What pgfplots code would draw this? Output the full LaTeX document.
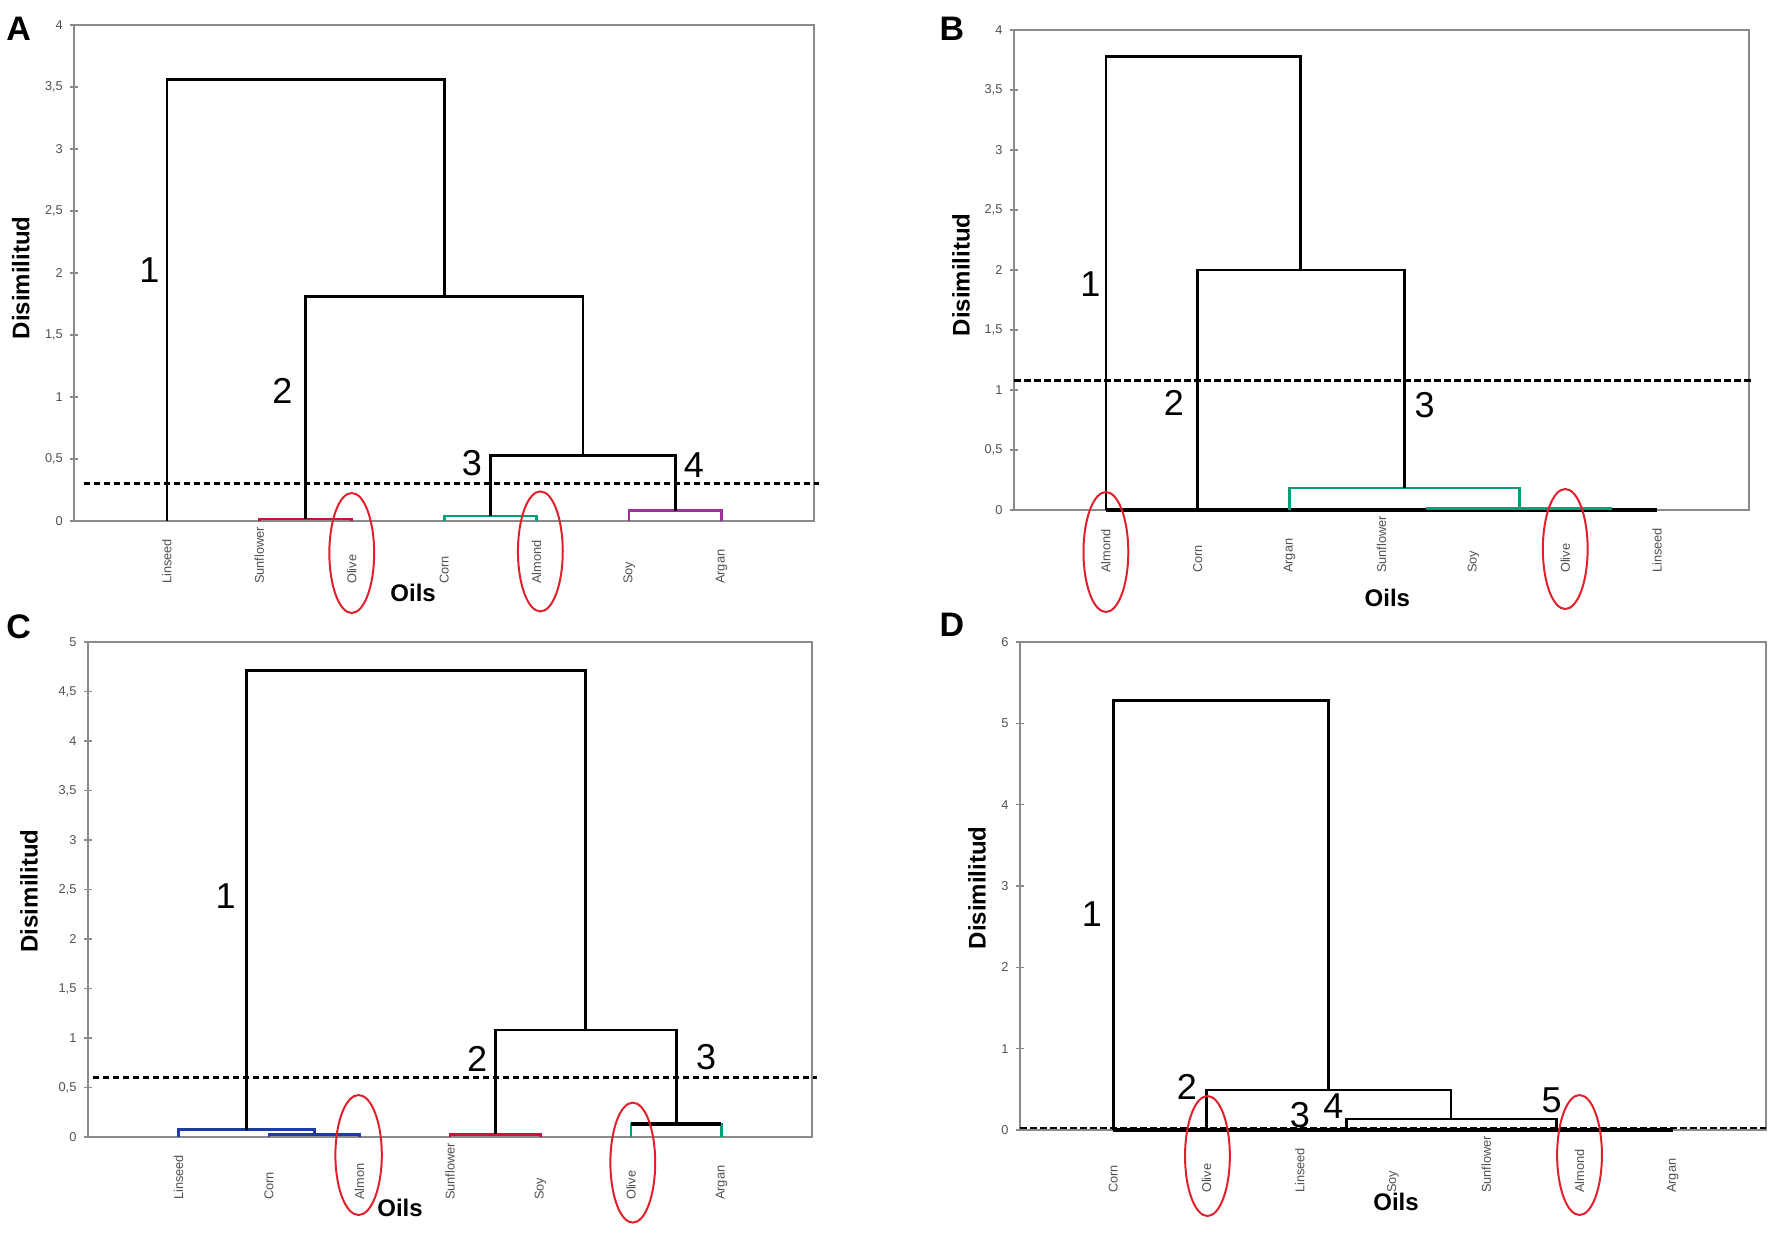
\documentclass[border=0pt]{standalone}
\usepackage{fontspec}
\setmainfont{Liberation Sans}
\usepackage{pgfplots}
\pgfplotsset{compat=1.18}
\usetikzlibrary{calc}
\definecolor{dred}{HTML}{C8143C}
\definecolor{dgreen}{HTML}{00A078}
\definecolor{dpurple}{HTML}{A0309A}
\definecolor{dblue}{HTML}{1E3CA8}
\definecolor{ellred}{HTML}{E0202A}
\definecolor{axgray}{HTML}{8A8A8A}
\definecolor{lblgray}{HTML}{505050}

\newcommand{\lf}[1]{\makebox[14pt][l]{#1}}

\pgfplotsset{
  dendro/.style={
    scale only axis, xmin=0, xmax=8, ymin=0, clip=false,
    axis line style={draw=axgray, line width=0.45pt},
    xtick={1,...,7}, major x tick style={draw=none},
    ytick pos=left,
    xticklabel style={rotate=90, anchor=east, font=\fontsize{3.2}{3.2}\selectfont, text=lblgray, inner sep=0.5pt},
    yticklabel style={font=\fontsize{3.2}{3.2}\selectfont, text=lblgray, inner sep=0.5pt, xshift=-1.2pt},
    major y tick style={draw=axgray, line width=0.4pt},
    tick align=center, major tick length=2pt,
    /pgf/number format/use comma,
    /pgf/number format/assume math mode=true,
    /pgf/number format/1000 sep={},
  },
  link/.style={line width=0.65pt, black, no markers},
  cut/.style={line width=0.7pt, black, no markers, dash pattern=on 1.7pt off 0.8pt},
  base/.style={line width=1pt, black, no markers},
}
\tikzset{
  num/.style={font=\fontsize{9}{9}\selectfont},
  ell/.style={draw=ellred, line width=0.5pt},
  oils/.style={font=\bfseries\fontsize{6}{6}\selectfont},
  plet/.style={font=\bfseries\fontsize{8.5}{8.5}\selectfont},
}

\begin{document}
\begin{tikzpicture}
% ---------------- Panel A ----------------
\begin{axis}[dendro, at={(18.6pt,178pt)}, anchor=south west,
  width=184.9pt, height=124pt, ymax=4, ytick={0,0.5,...,4},
  xticklabels={\lf{Linseed},\lf{Sunflower},\lf{Olive},\lf{Corn},\lf{Almond},\lf{Soy},\lf{Argan}}]
\addplot[link, dred] coordinates {(2,0) (2,0.016) (3,0.016) (3,0)};
\addplot[link, dgreen] coordinates {(4,0) (4,0.04) (5,0.04) (5,0)};
\addplot[link, dpurple] coordinates {(6,0) (6,0.083) (7,0.083) (7,0)};
\addplot[link] coordinates {(4.5,0.04) (4.5,0.527) (6.5,0.527) (6.5,0.083)};
\addplot[link] coordinates {(2.5,0.016) (2.5,1.81) (5.5,1.81) (5.5,0.527)};
\addplot[link] coordinates {(1,0) (1,3.56) (4,3.56) (4,1.81)};
\addplot[cut] coordinates {(0.1,0.30) (8.05,0.30)};
\node[num] at (axis cs:0.81,2.02) {1};
\node[num] at (axis cs:2.25,1.05) {2};
\node[num] at (axis cs:4.3,0.465) {3};
\node[num] at (axis cs:6.7,0.45) {4};
\draw[ell] ($(axis cs:3,0)+(0,-8pt)$) ellipse [x radius=5.6pt, y radius=15pt];
\draw[ell] ($(axis cs:5.04,0)+(0,-7.6pt)$) ellipse [x radius=5.6pt, y radius=15pt];
\node[oils, rotate=90] at ($(rel axis cs:0,0.49)+(-13.4pt,0)$) {Disimilitud};
\node[oils] at ($(rel axis cs:0.458,0)+(0,-18pt)$) {Oils};
\end{axis}
% ---------------- Panel B ----------------
\begin{axis}[dendro, at={(253.5pt,180.75pt)}, anchor=south west,
  width=183.75pt, height=120pt, ymax=4, ytick={0,0.5,...,4},
  xticklabels={\lf{Almond},\lf{Corn},\lf{Argan},\lf{Sunflower},\lf{Soy},\lf{Olive},\lf{Linseed}}]
\addplot[base] coordinates {(1,0) (7,0)};
\addplot[link, dgreen] coordinates {(4.5,0) (4.5,0.012) (6.5,0.012) (6.5,0)};
\addplot[link, dgreen] coordinates {(3,0) (3,0.185) (5.5,0.185) (5.5,0.012)};
\addplot[link] coordinates {(2,0) (2,2.0) (4.25,2.0) (4.25,0.185)};
\addplot[link] coordinates {(1,0) (1,3.78) (3.12,3.78) (3.12,2.0)};
\addplot[cut] coordinates {(0,1.08) (8.05,1.08)};
\node[num] at (axis cs:0.83,1.88) {1};
\node[num] at (axis cs:1.74,0.89) {2};
\node[num] at (axis cs:4.47,0.875) {3};
\draw[ell] ($(axis cs:1,0)+(0,-10.5pt)$) ellipse [x radius=5.6pt, y radius=15pt];
\draw[ell] ($(axis cs:6,0)+(0,-9.75pt)$) ellipse [x radius=5.6pt, y radius=15pt];
\node[oils, rotate=90] at ($(rel axis cs:0,0.49)+(-13.25pt,0)$) {Disimilitud};
\node[oils] at ($(rel axis cs:0.508,0)+(0,-22pt)$) {Oils};
\end{axis}
% ---------------- Panel C ----------------
\begin{axis}[dendro, at={(22pt,24pt)}, anchor=south west,
  width=181pt, height=123.75pt, ymax=5, ytick={0,0.5,...,5},
  xticklabels={\lf{Linseed},\lf{Corn},\lf{Almon},\lf{Sunflower},\lf{Soy},\lf{Olive},\lf{Argan}}]
\addplot[link, dblue] coordinates {(2,0) (2,0.027) (3,0.027) (3,0)};
\addplot[link, dblue] coordinates {(1,0) (1,0.074) (2.5,0.074) (2.5,0.027)};
\addplot[link, dred] coordinates {(4,0) (4,0.027) (5,0.027) (5,0)};
\addplot[link, dgreen] coordinates {(6,0) (6,0.13) (7,0.13) (7,0)};
\addplot[base] coordinates {(6,0.13) (7,0.13)};
\addplot[link] coordinates {(4.5,0.027) (4.5,1.08) (6.5,1.08) (6.5,0.13)};
\addplot[link] coordinates {(1.75,0.074) (1.75,4.71) (5.5,4.71) (5.5,1.08)};
\addplot[cut] coordinates {(0.05,0.60) (8.05,0.60)};
\node[num] at (axis cs:1.52,2.43) {1};
\node[num] at (axis cs:4.3,0.79) {2};
\node[num] at (axis cs:6.83,0.81) {3};
\draw[ell] ($(axis cs:2.99,0)+(0,-4.5pt)$) ellipse [x radius=5.8pt, y radius=15pt];
\draw[ell] ($(axis cs:6.02,0)+(0,-6.4pt)$) ellipse [x radius=5.6pt, y radius=15pt];
\node[oils, rotate=90] at ($(rel axis cs:0,0.497)+(-14.75pt,0)$) {Disimilitud};
\node[oils] at ($(rel axis cs:0.431,0)+(0,-17.75pt)$) {Oils};
\end{axis}
% ---------------- Panel D ----------------
\begin{axis}[dendro, at={(255pt,25.75pt)}, anchor=south west,
  width=186.5pt, height=122pt, ymax=6, ytick={0,1,...,6},
  xticklabels={\lf{Corn},\lf{Olive},\lf{Linseed},\lf{Soy},\lf{Sunflower},\lf{Almond},\lf{Argan}}]
\addplot[base] coordinates {(1,0) (7,0)};
\addplot[link] coordinates {(3.5,0) (3.5,0.135) (5.75,0.135) (5.75,0)};
\addplot[link] coordinates {(2,0) (2,0.49) (4.62,0.49) (4.62,0.135)};
\addplot[link] coordinates {(1,0) (1,5.28) (3.31,5.28) (3.31,0.49)};
\addplot[cut] coordinates {(0,0.025) (8,0.025)};
\node[num] at (axis cs:0.77,2.66) {1};
\node[num] at (axis cs:1.79,0.53) {2};
\node[num] at (axis cs:3.0,0.18) {3};
\node[num] at (axis cs:3.36,0.29) {4};
\node[num] at (axis cs:5.7,0.37) {5};
\draw[ell] ($(axis cs:2.01,0)+(0,-6.5pt)$) ellipse [x radius=5.6pt, y radius=15pt];
\draw[ell] ($(axis cs:6,0)+(0,-6.25pt)$) ellipse [x radius=5.6pt, y radius=15pt];
\node[oils, rotate=90] at ($(rel axis cs:0,0.496)+(-10.75pt,0)$) {Disimilitud};
\node[oils] at ($(rel axis cs:0.504,0)+(0,-18pt)$) {Oils};
\end{axis}
% panel letters
\node[plet] at (4.65pt,301pt) {A};
\node[plet] at (238pt,301pt) {B};
\node[plet] at (4.65pt,151.5pt) {C};
\node[plet] at (238pt,152pt) {D};
\pgfresetboundingbox
\path[use as bounding box] (0,0) rectangle (443pt,308.25pt);
\end{tikzpicture}
\end{document}
